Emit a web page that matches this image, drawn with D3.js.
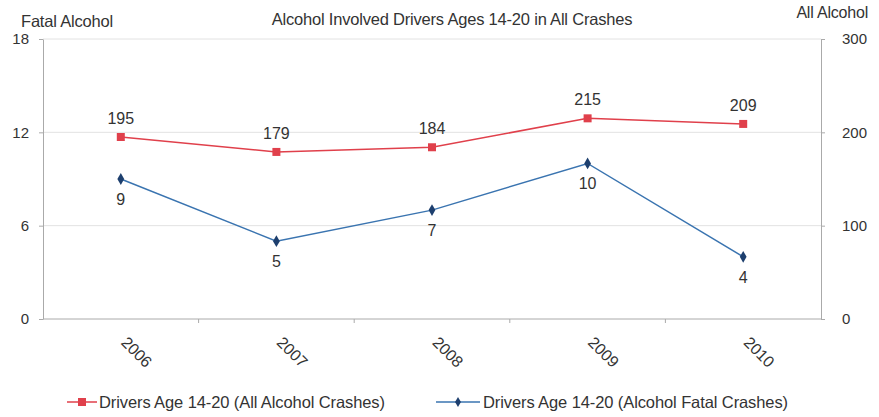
<!DOCTYPE html>
<html>
<head>
<meta charset="utf-8">
<script src="https://cdn.jsdelivr.net/npm/d3@7"></script>
<style>
  body { margin: 0; background: #fff; }
  svg text { font-family: "Liberation Sans", Arial, sans-serif; fill: #333; }
</style>
</head>
<body>
<div id="chart"></div>
<script>
var years = ["2006", "2007", "2008", "2009", "2010"];
var allAlcohol = [195, 179, 184, 215, 209];
var fatalAlcohol = [9, 5, 7, 10, 4];
var leftTicks = [0, 6, 12, 18];
var rightTicks = [0, 100, 200, 300];

var width = 879, height = 417;
var margin = { top: 39, right: 58, bottom: 98, left: 43 };
var innerW = width - margin.left - margin.right,
  innerH = height - margin.top - margin.bottom;

var svg = d3.select("#chart").append("svg")
  .attr("width", width)
  .attr("height", height);

var g = svg.append("g")
  .attr("transform", "translate(" + margin.left + "," + margin.top + ")");

var x = d3.scaleBand().domain(years).range([0, innerW]);
var yLeft = d3.scaleLinear().domain([0, 18]).range([innerH, 0]);
var yRight = d3.scaleLinear().domain([0, 300]).range([innerH, 0]);

// gridlines
g.append("g")
  .selectAll("line")
  .data(leftTicks.filter(function (d) { return d > 0; }))
  .enter().append("line")
  .attr("x1", 0).attr("x2", innerW)
  .attr("y1", function (d) { return yLeft(d); })
  .attr("y2", function (d) { return yLeft(d); })
  .attr("stroke", "#e2e2e2").attr("stroke-width", 1);

// left axis
var leftAxis = g.append("g")
  .call(d3.axisLeft(yLeft).tickValues(leftTicks).tickSize(4).tickSizeOuter(0));
leftAxis.select(".domain").attr("stroke", "#aaa");
leftAxis.selectAll(".tick line").attr("stroke", "#aaa");
leftAxis.selectAll("text").attr("font-size", 15).attr("x", -14);

// right axis
var rightAxis = g.append("g")
  .attr("transform", "translate(" + innerW + ",0)")
  .call(d3.axisRight(yRight).tickValues(rightTicks).tickSize(4).tickSizeOuter(0));
rightAxis.select(".domain").attr("stroke", "#aaa");
rightAxis.selectAll(".tick line").attr("stroke", "#aaa");
rightAxis.selectAll("text").attr("font-size", 15).attr("x", 21);

// bottom axis line and ticks at category boundaries
g.append("line")
  .attr("x1", 0).attr("x2", innerW)
  .attr("y1", innerH).attr("y2", innerH)
  .attr("stroke", "#aaa");
g.append("g").selectAll("line")
  .data(years.slice(1))
  .enter().append("line")
  .attr("x1", function (d) { return x(d); })
  .attr("x2", function (d) { return x(d); })
  .attr("y1", innerH).attr("y2", innerH + 4)
  .attr("stroke", "#aaa");

// year labels, rotated
g.append("g").selectAll("text")
  .data(years)
  .enter().append("text")
  .attr("transform", function (d) {
    var cx = x(d) + x.bandwidth() / 2 + 15;
    return "translate(" + cx + "," + (innerH + 34) + ") rotate(45)";
  })
  .attr("text-anchor", "middle")
  .attr("dominant-baseline", "middle")
  .attr("font-size", 16)
  .text(function (d) { return d; });

var red = "#e0404b", blue = "#3a74b0", blueDark = "#1d3f6e";

var cx = function (d, i) { return x(years[i]) + x.bandwidth() / 2; };

// red line (all alcohol, right axis)
var lineRed = d3.line()
  .x(function (d, i) { return cx(d, i); })
  .y(function (d) { return yRight(d); });
g.append("path").datum(allAlcohol)
  .attr("d", lineRed).attr("fill", "none")
  .attr("stroke", red).attr("stroke-width", 1.5);
g.selectAll(".redPt").data(allAlcohol).enter().append("rect")
  .attr("x", function (d, i) { return cx(d, i) - 4; })
  .attr("y", function (d) { return yRight(d) - 4; })
  .attr("width", 8).attr("height", 8)
  .attr("fill", red);
g.selectAll(".redLbl").data(allAlcohol).enter().append("text")
  .attr("x", function (d, i) { return cx(d, i); })
  .attr("y", function (d) { return yRight(d) - 13; })
  .attr("text-anchor", "middle")
  .attr("font-size", 16)
  .text(function (d) { return d; });

// blue line (fatal alcohol, left axis)
var lineBlue = d3.line()
  .x(function (d, i) { return cx(d, i); })
  .y(function (d) { return yLeft(d); });
g.append("path").datum(fatalAlcohol)
  .attr("d", lineBlue).attr("fill", "none")
  .attr("stroke", blue).attr("stroke-width", 1.5);
g.selectAll(".bluePt").data(fatalAlcohol).enter().append("path")
  .attr("d", d3.symbol().type(d3.symbolDiamond).size(40))
  .attr("transform", function (d, i) {
    return "translate(" + cx(d, i) + "," + yLeft(d) + ")";
  })
  .attr("fill", blueDark);
g.selectAll(".blueLbl").data(fatalAlcohol).enter().append("text")
  .attr("x", function (d, i) { return cx(d, i); })
  .attr("y", function (d) { return yLeft(d) + 26; })
  .attr("text-anchor", "middle")
  .attr("font-size", 16)
  .text(function (d) { return d; });

// titles
svg.append("text")
  .attr("x", 452).attr("y", 25)
  .attr("text-anchor", "middle")
  .attr("font-size", 16.5)
  .attr("letter-spacing", -0.2)
  .text("Alcohol Involved Drivers Ages 14-20 in All Crashes");
svg.append("text")
  .attr("x", 21).attr("y", 27)
  .attr("font-size", 16.5)
  .attr("letter-spacing", -0.2)
  .text("Fatal Alcohol");
svg.append("text")
  .attr("x", 868).attr("y", 18)
  .attr("text-anchor", "end")
  .attr("font-size", 16)
  .attr("letter-spacing", -0.2)
  .text("All Alcohol");

// legend
var legend = svg.append("g");
var lg1 = legend.append("g").attr("transform", "translate(67,402)");
lg1.append("line").attr("x1", 0).attr("x2", 30).attr("y1", 0).attr("y2", 0)
  .attr("stroke", red).attr("stroke-width", 1.5);
lg1.append("rect").attr("x", 11).attr("y", -4).attr("width", 8).attr("height", 8).attr("fill", red);
lg1.append("text").attr("x", 32).attr("y", 6).attr("font-size", 16.5)
  .attr("letter-spacing", -0.1)
  .text("Drivers Age 14-20 (All Alcohol Crashes)");

var lg2 = legend.append("g").attr("transform", "translate(436,402)");
lg2.append("line").attr("x1", 0).attr("x2", 44).attr("y1", 0).attr("y2", 0)
  .attr("stroke", blue).attr("stroke-width", 1.5);
lg2.append("path").attr("d", d3.symbol().type(d3.symbolDiamond).size(30))
  .attr("transform", "translate(22,0)").attr("fill", blueDark);
lg2.append("text").attr("x", 47).attr("y", 6).attr("font-size", 16.5)
  .attr("letter-spacing", -0.1)
  .text("Drivers Age 14-20 (Alcohol Fatal Crashes)");
</script>
</body>
</html>
